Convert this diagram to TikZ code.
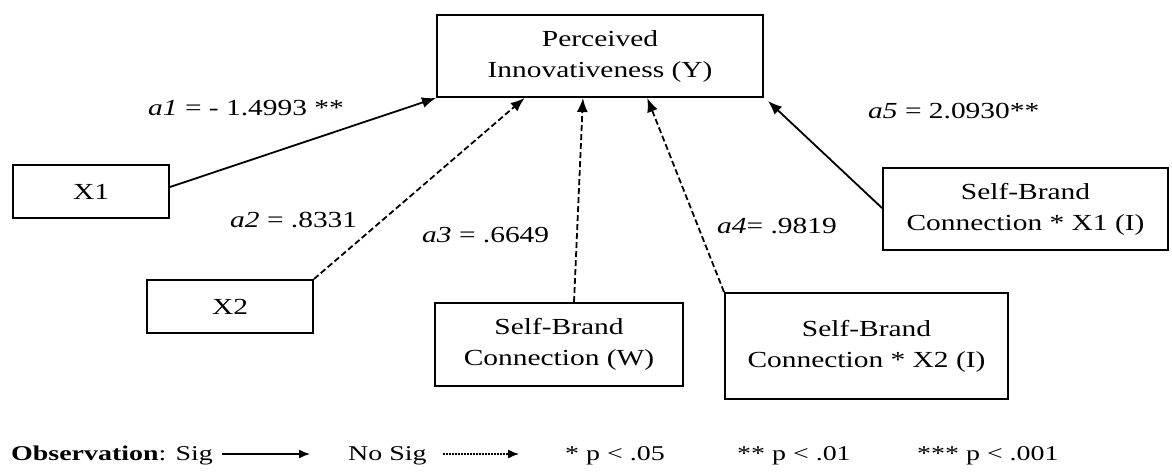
\documentclass[tikz,border=0pt]{standalone}
\usepackage{fontspec}
\usetikzlibrary{arrows.meta,calc}
\newfontfamily\nodefont{Liberation Serif}[FakeStretch=1.28]
\newfontfamily\legfont{Liberation Serif}[FakeStretch=1.33]

\tikzset{
  box/.style={draw=black, line width=2pt, fill=white, rectangle, inner sep=0pt,
    align=center, font=\nodefont\fontsize{23}{31}\selectfont},
  coef/.style={anchor=base west, inner sep=0pt, font=\nodefont\fontsize{23}{31}\selectfont},
  sig/.style={line width=1.8pt, -{Latex[length=14pt,width=11pt]}},
  nosig/.style={sig, dash pattern=on 6pt off 3pt},
  legtext/.style={anchor=base west, inner sep=0pt, font=\legfont\fontsize{21}{26}\selectfont},
  legsig/.style={line width=1.4pt, -{Latex[length=11pt,width=9pt]}},
  legnosig/.style={legsig, dash pattern=on 2pt off 1pt},
}

\begin{document}
\begin{tikzpicture}[x=1pt, y=-1pt]
\useasboundingbox[fill=white] (0,0) rectangle (1172,472);

% outcome and predictor boxes
\node[box, minimum width=326pt, minimum height=82pt] (Y) at (600,56)
  {Perceived\\Innovativeness (Y)};
\node[box, minimum width=156pt, minimum height=53pt] (X1) at (91,191.5) {X1};
\node[box, minimum width=166pt, minimum height=53pt] (X2) at (230,306.5) {X2};
\node[box, minimum width=248pt, minimum height=83pt] (W) at (559,344.5)
  {Self-Brand\\Connection (W)};
\node[box, minimum width=283pt, minimum height=106pt] (SX2) at (866.5,346)
  {Self-Brand\\Connection * X2 (I)};
\node[box, minimum width=285pt, minimum height=82pt] (SX1) at (1025.5,209)
  {Self-Brand\\Connection * X1 (I)};

% paths into Y
\draw[sig] ([yshift=4.5pt]X1.east) -- (Y.south west);
\draw[nosig] (X2.north east) -- ($(Y.south west)!0.27!(Y.south east)$);
\draw[nosig] ($(W.north west)!0.56!(W.north east)$) -- ($(Y.south west)!0.448!(Y.south east)$);
\draw[nosig] (SX2.north west) -- ($(Y.south west)!0.644!(Y.south east)$);
\draw[sig] ([yshift=1pt]SX1.west) -- ([xshift=4pt,yshift=-3pt]Y.south east);

% path coefficients
\node[coef] (c1) at (148,115) {\textit{a1} = - 1.4993 **};
\node[coef] (c2) at (230,227) {\textit{a2} = .8331};
\node[coef] (c3) at (422,242) {\textit{a3} = .6649};
\node[coef] (c4) at (717,233) {\textit{a4}= .9819};
\node[coef] (c5) at (868,118) {\textit{a5} = 2.0930**};

% legend
\node[legtext] (obs) at (11,460) {\textbf{Observation}: Sig};
\coordinate (s0) at (222,454);
\coordinate (s1) at (310,454);
\draw[legsig] (s0) -- (s1);
\node[legtext] (nosig) at (348,460) {No Sig};
\coordinate (d0) at (443,454);
\coordinate (d1) at (519,454);
\draw[legnosig] (d0) -- (d1);
\node[legtext] (p1) at (565,460) {* p < .05};
\node[legtext] (p2) at (737,460) {** p < .01};
\node[legtext] (p3) at (917,460) {*** p < .001};
\end{tikzpicture}
\end{document}
